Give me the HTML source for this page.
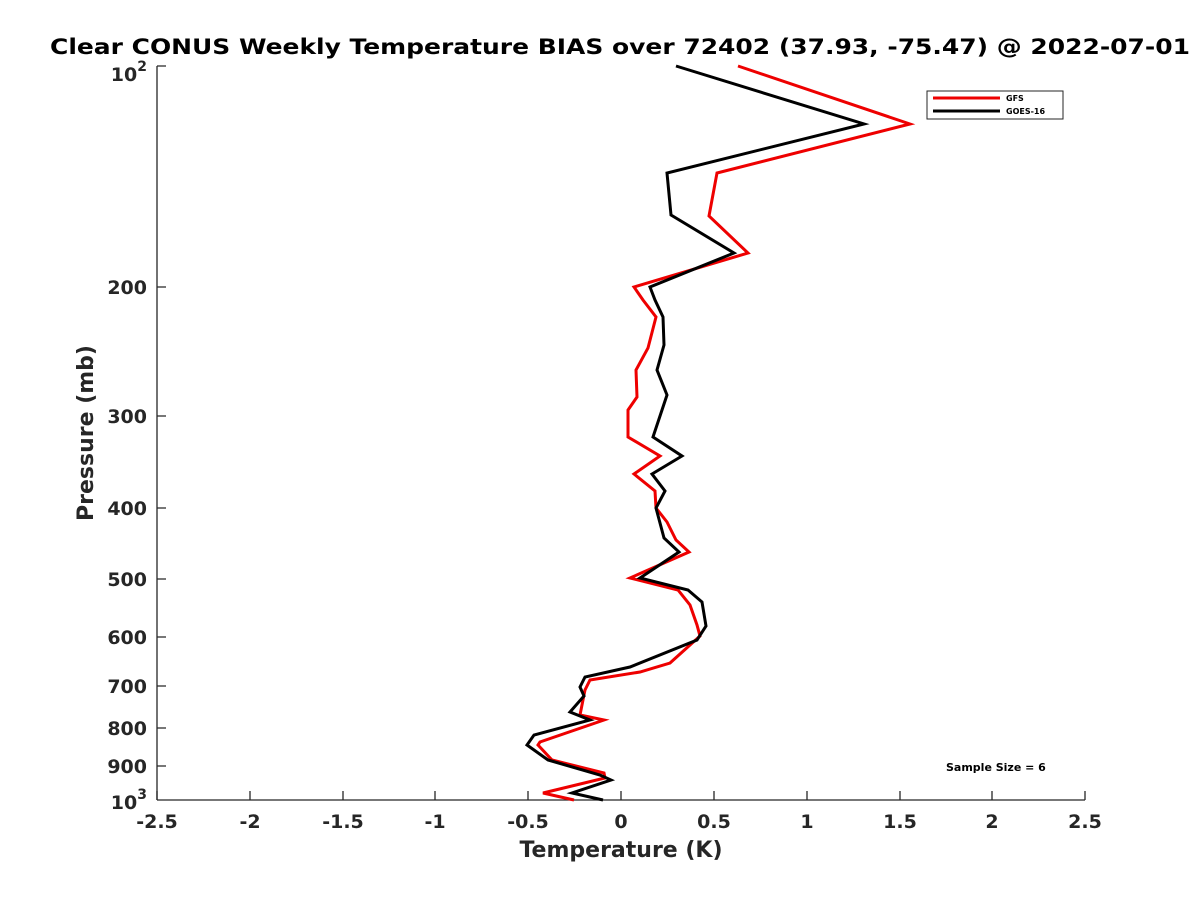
<!DOCTYPE html>
<html><head><meta charset="utf-8"><style>body{margin:0;background:#fff}svg{display:block}text{font-family:"DejaVu Sans",sans-serif;font-weight:bold;fill:#262626}</style></head><body>
<svg width="1200" height="900" viewBox="0 0 1200 900">
<rect width="1200" height="900" fill="#fff"/>
<text x="50" y="54" font-size="21" textLength="1140" lengthAdjust="spacingAndGlyphs" style="fill:#000">Clear CONUS Weekly Temperature BIAS over 72402 (37.93, -75.47) @ 2022-07-01</text>
<g stroke="#262626" stroke-width="1.3" fill="none">
<line x1="157" y1="66" x2="157" y2="800"/><line x1="157" y1="800" x2="1085" y2="800"/>
<path d="M157 800v-9M250 800v-9M343 800v-9M435 800v-9M528 800v-9M621 800v-9M714 800v-9M807 800v-9M900 800v-9M992 800v-9M1085 800v-9"/>
<path d="M157 66h9M157 287h9M157 416h9M157 508h9M157 579h9M157 637h9M157 686h9M157 728h9M157 766h9"/>
</g>
<g font-size="19" text-anchor="middle">
<text x="157" y="828">-2.5</text><text x="250" y="828">-2</text><text x="343" y="828">-1.5</text><text x="435" y="828">-1</text><text x="528" y="828">-0.5</text><text x="621" y="828">0</text><text x="714" y="828">0.5</text><text x="807" y="828">1</text><text x="900" y="828">1.5</text><text x="992" y="828">2</text><text x="1085" y="828">2.5</text>
</g>
<g font-size="19" text-anchor="end">
<text x="147" y="81">10<tspan font-size="14" dy="-10">2</tspan></text>
<text x="147" y="294">200</text><text x="147" y="423">300</text><text x="147" y="515">400</text><text x="147" y="586">500</text><text x="147" y="644">600</text><text x="147" y="693">700</text><text x="147" y="735">800</text><text x="147" y="773">900</text>
<text x="147" y="809">10<tspan font-size="14" dy="-10">3</tspan></text>
</g>
<text x="621" y="857" font-size="22" text-anchor="middle">Temperature (K)</text>
<text transform="translate(93,433) rotate(-90)" font-size="22" text-anchor="middle">Pressure (mb)</text>
<polyline fill="none" stroke="#e00" stroke-width="3" points="738,66 910,124 717,173 709,216 748,253 634,287 643,300 656,317 648,348 636,370 637,397 628,410 628,437 660,456 634,474 655,491 656,508 667,522 676,540 689,552 630,578 678,590 690,605 697,625 700,636 670,663 640,672 590,680 585,690 580,715 604,720 540,742 538,745 552,760 604,773 605,778 543,793 574,800"/>
<polyline fill="none" stroke="#000" stroke-width="3" points="676,66 864,124 667,173 671,215 734,253 650,287 655,300 663,317 664,345 657,370 667,395 653,437 682,456 652,474 665,491 656,508 664,538 679,552 640,578 688,590 702,602 706,626 697,640 630,667 585,677 580,687 584,696 570,712 590,720 534,735 527,745 548,760 600,775 611,780 572,793 603,800"/>
<rect x="927" y="91" width="136" height="28" fill="#fff" stroke="#262626" stroke-width="1"/>
<line x1="933" y1="98" x2="1000" y2="98" stroke="#e00" stroke-width="3"/>
<line x1="933" y1="111" x2="1000" y2="111" stroke="#000" stroke-width="3"/>
<text x="1006" y="101" font-size="8" style="fill:#000">GFS</text>
<text x="1006" y="114" font-size="8" style="fill:#000">GOES-16</text>
<text x="946" y="771" font-size="11" style="fill:#000">Sample Size = 6</text>
</svg>
</body></html>
